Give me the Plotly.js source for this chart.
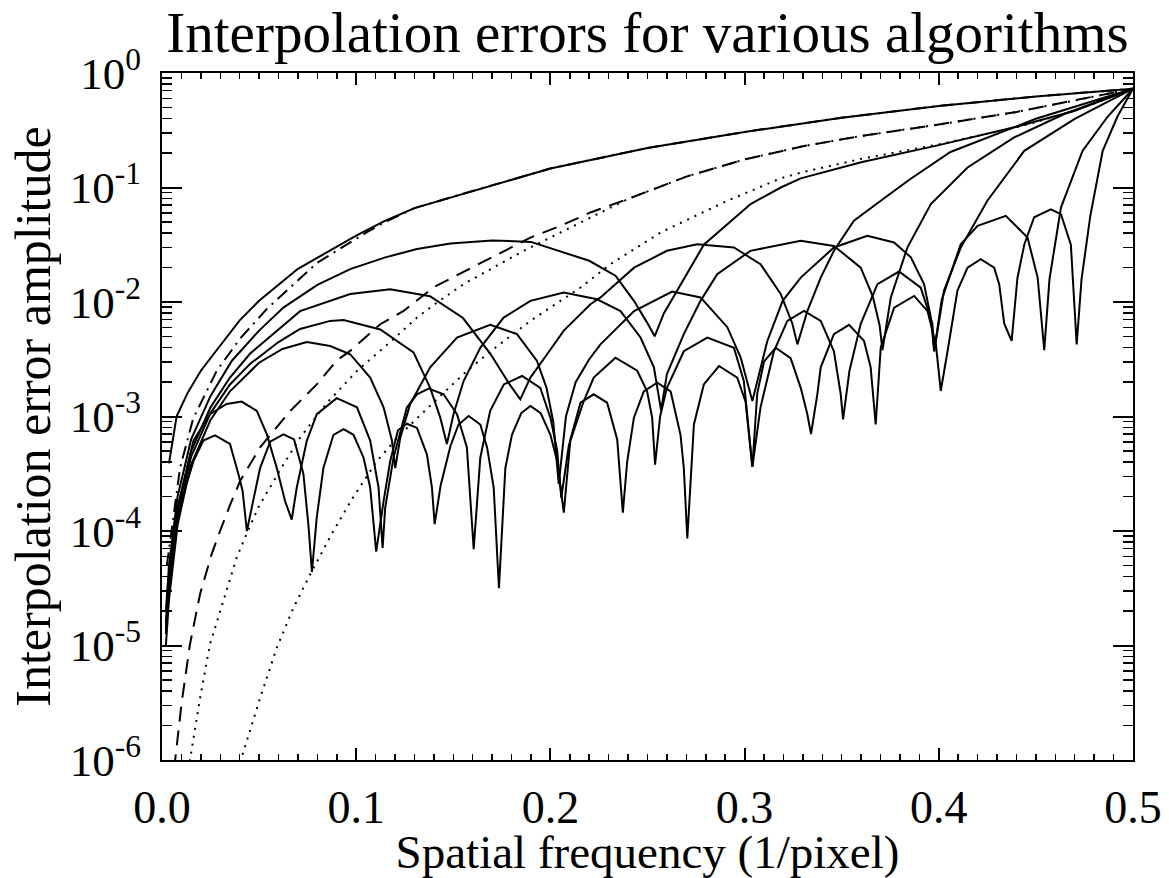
<!DOCTYPE html>
<html>
<head>
<meta charset="utf-8">
<script src="https://cdn.plot.ly/plotly-3.0.1.min.js"></script>
<style>
html,body{margin:0;padding:0;background:#fff;}
#chart{width:1169px;height:878px;}
</style>
</head>
<body>
<div id="chart"></div>
<script>
// ---- Data (frequency in 1/pixel, error as log10 of amplitude) ----
const linFreq = [0.0036,0.0075,0.013,0.02,0.03,0.04,0.05,0.07,0.1,0.115,0.13,0.16,0.2,0.25,0.3,0.35,0.4,0.45,0.5];
const linLogErr = [-3.41,-3.0,-2.8,-2.6,-2.38,-2.16,-1.99,-1.71,-1.42,-1.29,-1.18,-1.03,-0.834,-0.655,-0.515,-0.39,-0.288,-0.205,-0.137];

const ddFreq = [0.0025,0.0093,0.016,0.0282,0.0402,0.054,0.0797,0.1055,0.115,0.13,0.16,0.2,0.25,0.3,0.35,0.4,0.45,0.5];
const ddLogErr = [-4.3,-3.45,-3.02,-2.6,-2.32,-2.06,-1.66,-1.39,-1.3,-1.18,-1.03,-0.834,-0.655,-0.515,-0.39,-0.288,-0.205,-0.137];

const daFreq = [0.0055,0.0067,0.0102,0.0144,0.0196,0.0256,0.0299,0.0351,0.0402,0.0505,0.066,0.0797,0.09,0.0969,0.1124,0.1244,0.14,0.1742,0.1897,0.2052,0.2206,0.24,0.27,0.3,0.33,0.36,0.4,0.44,0.47,0.5];
const daLogErr = [-6.5,-6.01,-5.49,-4.99,-4.55,-4.2,-4.0,-3.77,-3.564,-3.27,-2.952,-2.72,-2.51,-2.427,-2.194,-2.078,-1.87,-1.568,-1.437,-1.335,-1.218,-1.1,-0.905,-0.755,-0.64,-0.55,-0.45,-0.34,-0.24,-0.137];

const do1Freq = [0.012,0.0144,0.0196,0.0247,0.0316,0.0385,0.0437,0.05,0.0625,0.0711,0.085,0.1004,0.1175,0.1313,0.1416,0.1553,0.1862,0.2172,0.24,0.27,0.3,0.33,0.36,0.4,0.44,0.47,0.5];
const do1LogErr = [-6.5,-6.0,-5.46,-4.99,-4.61,-4.23,-4.02,-3.78,-3.42,-3.185,-2.88,-2.602,-2.35,-2.136,-2.005,-1.844,-1.553,-1.291,-1.1,-0.905,-0.755,-0.64,-0.55,-0.45,-0.34,-0.24,-0.137];

const do2Freq = [0.0385,0.041,0.0505,0.0591,0.0677,0.0763,0.0866,0.0975,0.1106,0.1225,0.144,0.157,0.17,0.1897,0.2155,0.2309,0.2567,0.2911,0.3186,0.3289,0.36,0.401,0.4423,0.47,0.5];
const do2LogErr = [-6.3,-5.98,-5.46,-5.02,-4.67,-4.38,-4.05,-3.73,-3.39,-3.16,-2.81,-2.602,-2.42,-2.165,-1.874,-1.67,-1.393,-1.116,-0.92,-0.87,-0.75,-0.62,-0.465,-0.33,-0.137];

const s1Freq = [0.002,0.0036,0.008,0.015,0.025,0.0359,0.05,0.0625,0.08,0.0969,0.115,0.1313,0.1485,0.17,0.19,0.205,0.22,0.2335,0.243,0.2498,0.2537,0.2584,0.2652,0.279,0.3031,0.3186,0.3289,0.36,0.4,0.44,0.47,0.5];
const s1LogErr = [-4.7,-4.3,-3.7,-3.2,-2.82,-2.515,-2.25,-2.049,-1.85,-1.713,-1.61,-1.538,-1.49,-1.462,-1.475,-1.56,-1.64,-1.77,-1.99,-2.18,-2.3,-2.1,-1.9,-1.5,-1.145,-1.0,-0.92,-0.78,-0.63,-0.47,-0.33,-0.137];

const s2Freq = [0.002,0.0036,0.008,0.015,0.025,0.035,0.0454,0.0711,0.0969,0.1175,0.138,0.155,0.169,0.179,0.1845,0.1897,0.1983,0.2069,0.2206,0.2258,0.2431,0.26,0.2756,0.2945,0.3082,0.3186,0.3246,0.3272,0.3323,0.3392,0.346,0.3563,0.3701,0.385,0.406,0.45,0.5];
const s2LogErr = [-4.8,-4.4,-3.8,-3.3,-2.92,-2.66,-2.45,-2.08,-1.93,-1.888,-1.95,-2.14,-2.45,-2.72,-2.85,-2.66,-2.456,-2.25,-2.02,-1.96,-1.70,-1.553,-1.495,-1.524,-1.67,-1.93,-2.19,-2.37,-2.08,-1.787,-1.553,-1.29,-1.116,-0.93,-0.69,-0.4,-0.137];

const s3Freq = [0.002,0.0036,0.008,0.015,0.025,0.035,0.0454,0.06,0.0711,0.0866,0.0935,0.1124,0.1295,0.1381,0.1433,0.1467,0.1501,0.1553,0.1639,0.1759,0.1897,0.2069,0.224,0.2361,0.2464,0.2533,0.257,0.26,0.2687,0.2773,0.2859,0.303,0.3289,0.346,0.3598,0.366,0.3695,0.371,0.3753,0.3838,0.3959,0.4148,0.4388,0.4646,0.5];
const s3LogErr = [-4.85,-4.45,-3.85,-3.35,-2.97,-2.72,-2.54,-2.35,-2.235,-2.165,-2.157,-2.24,-2.44,-2.75,-3.01,-3.24,-2.98,-2.69,-2.4,-2.136,-1.99,-1.918,-1.976,-2.08,-2.31,-2.57,-2.946,-2.63,-2.28,-1.99,-1.757,-1.553,-1.466,-1.51,-1.7,-1.95,-2.2,-2.42,-1.96,-1.525,-1.145,-0.825,-0.563,-0.358,-0.137];

const s4Freq = [0.002,0.0036,0.008,0.015,0.025,0.035,0.05,0.062,0.0746,0.0866,0.0969,0.1072,0.1141,0.1184,0.1201,0.1227,0.1278,0.1381,0.1519,0.169,0.1828,0.1931,0.198,0.2015,0.2043,0.208,0.213,0.22,0.2258,0.2431,0.2627,0.2773,0.2911,0.298,0.304,0.3117,0.3196,0.3289,0.346,0.3632,0.377,0.3856,0.3924,0.3959,0.3976,0.4027,0.4113,0.425,0.444,0.47,0.5];
const s4LogErr = [-4.9,-4.5,-3.9,-3.42,-3.03,-2.78,-2.53,-2.41,-2.35,-2.384,-2.456,-2.66,-2.92,-3.21,-3.45,-3.185,-2.89,-2.57,-2.31,-2.2,-2.28,-2.515,-2.75,-3.05,-3.59,-3.0,-2.7,-2.5,-2.37,-2.08,-1.909,-1.96,-2.22,-2.486,-2.865,-2.34,-1.99,-1.787,-1.524,-1.422,-1.48,-1.61,-1.844,-2.136,-2.43,-1.9,-1.525,-1.116,-0.68,-0.4,-0.137];

const s5Freq = [0.002,0.0036,0.008,0.0162,0.0247,0.0333,0.041,0.0488,0.054,0.0591,0.0634,0.0668,0.0694,0.0746,0.0797,0.09,0.1004,0.1072,0.1115,0.1136,0.1149,0.1192,0.1261,0.1313,0.1373,0.145,0.1519,0.157,0.1605,0.1639,0.169,0.176,0.1854,0.1948,0.2,0.2035,0.2056,0.2095,0.2172,0.2223,0.2335,0.2447,0.2498,0.2524,0.2539,0.2565,0.26,0.2687,0.2808,0.2945,0.2996,0.3022,0.304,0.3082,0.3151,0.322,0.3306,0.3392,0.346,0.3495,0.3507,0.354,0.3598,0.3684,0.3795,0.3907,0.3967,0.3976,0.4015,0.4113,0.42,0.4345,0.4457,0.4509,0.4543,0.457,0.4629,0.474,0.487,0.5];
const s5LogErr = [-4.9,-4.5,-3.8,-3.21,-2.98,-2.89,-2.87,-2.95,-3.156,-3.45,-3.74,-3.9,-3.62,-3.21,-2.98,-2.84,-2.92,-3.21,-3.62,-4.147,-3.8,-3.36,-2.92,-2.806,-2.757,-2.806,-2.98,-3.27,-4.158,-3.36,-2.95,-2.72,-2.646,-2.75,-3.01,-3.3,-3.71,-3.25,-2.865,-2.66,-2.486,-2.6,-2.78,-3.01,-3.42,-3.0,-2.75,-2.43,-2.311,-2.4,-2.69,-3.1,-3.44,-2.92,-2.43,-2.165,-2.078,-2.165,-2.43,-2.806,-3.025,-2.6,-2.19,-1.844,-1.734,-1.874,-2.19,-2.43,-1.98,-1.495,-1.335,-1.247,-1.437,-1.787,-2.42,-1.8,-1.175,-0.68,-0.38,-0.137];

const s6Freq = [0.002,0.0036,0.008,0.0125,0.0162,0.0213,0.0273,0.035,0.0393,0.0415,0.0437,0.0455,0.0505,0.0557,0.0625,0.068,0.0728,0.0754,0.0772,0.0797,0.0831,0.0883,0.0935,0.0986,0.1038,0.1072,0.1103,0.1141,0.1175,0.1215,0.1261,0.1313,0.1364,0.139,0.1404,0.1435,0.1485,0.1527,0.1579,0.1639,0.1674,0.1708,0.1735,0.1768,0.1802,0.185,0.1897,0.195,0.2,0.2035,0.2069,0.2103,0.2155,0.2223,0.2292,0.2344,0.2373,0.2395,0.243,0.2481,0.255,0.2619,0.267,0.2687,0.2705,0.2739,0.279,0.2868,0.2962,0.3005,0.304,0.3065,0.31,0.316,0.3237,0.3289,0.3323,0.3342,0.3375,0.3392,0.346,0.3538,0.3615,0.3649,0.3675,0.3701,0.377,0.3873,0.3942,0.3985,0.401,0.4045,0.4096,0.4148,0.4216,0.4285,0.4311,0.4337,0.4375,0.4405,0.444,0.4491,0.4577,0.4629,0.468,0.471,0.4735,0.478,0.4844,0.492,0.5];
const s6LogErr = [-5.0,-4.6,-3.95,-3.6,-3.39,-3.21,-3.165,-3.24,-3.5,-3.65,-4.0,-3.85,-3.45,-3.22,-3.156,-3.2,-3.5,-3.95,-4.357,-3.88,-3.45,-3.16,-3.11,-3.16,-3.36,-3.62,-4.18,-3.74,-3.39,-3.12,-3.063,-3.1,-3.33,-3.62,-3.94,-3.6,-3.26,-3.07,-2.996,-3.07,-3.27,-3.62,-4.5,-3.45,-3.16,-2.97,-2.908,-2.97,-3.16,-3.39,-3.84,-3.2,-2.88,-2.806,-2.88,-3.2,-3.84,-3.4,-3.01,-2.78,-2.705,-2.78,-3.16,-3.45,-4.065,-3.07,-2.72,-2.559,-2.66,-2.87,-3.44,-2.8,-2.52,-2.4,-2.49,-2.75,-2.98,-3.153,-2.8,-2.57,-2.28,-2.2,-2.34,-2.57,-3.07,-2.4,-2.05,-1.947,-2.08,-2.37,-2.777,-2.43,-1.9,-1.7,-1.626,-1.7,-1.844,-2.19,-2.34,-1.79,-1.5,-1.26,-1.19,-1.233,-1.5,-2.37,-1.8,-1.25,-0.68,-0.38,-0.137];

// Axis ticks
const xTickVals = [0, 0.1, 0.2, 0.3, 0.4, 0.5];
const xTickText = ['0.0', '0.1', '0.2', '0.3', '0.4', '0.5'];
const yTickVals = [1e-6, 1e-5, 1e-4, 1e-3, 1e-2, 1e-1, 1];
const yTickText = ['10<sup>-6</sup>', '10<sup>-5</sup>', '10<sup>-4</sup>', '10<sup>-3</sup>', '10<sup>-2</sup>', '10<sup>-1</sup>', '10<sup>0</sup>'];

const xMinor = [];
for (let i = 1; i < 50; i++) { if (i % 10 !== 0) xMinor.push(i / 100); }
const yMinor = [];
for (let e = -6; e < 0; e++) { for (let m = 2; m <= 9; m++) yMinor.push(m * Math.pow(10, e)); }

const toAmp = arr => arr.map(v => Math.pow(10, v));

function line(f, L, dash) {
  return {x: f, y: toAmp(L), type: 'scatter', mode: 'lines',
          line: {color: 'black', width: 2, dash: dash || 'solid'}, hoverinfo: 'skip'};
}

const traces = [
  line(s6Freq, s6LogErr),
  line(s5Freq, s5LogErr),
  line(s4Freq, s4LogErr),
  line(s3Freq, s3LogErr),
  line(s2Freq, s2LogErr),
  line(s1Freq, s1LogErr),
  line(do2Freq, do2LogErr, '2px,6px'),
  line(do1Freq, do1LogErr, '2px,6px'),
  line(daFreq, daLogErr, '15px,9px'),
  line(ddFreq, ddLogErr, '13px,6px,2px,6px'),
  line(linFreq, linLogErr)
];

const FONT = '"Liberation Serif", "Times New Roman", Times, serif';

const layout = {
  width: 1169, height: 878,
  margin: {l: 162, r: 36, t: 73, b: 118},
  paper_bgcolor: 'white', plot_bgcolor: 'white',
  showlegend: false,
  font: {family: FONT, color: 'black'},
  title: {text: 'Interpolation errors for various algorithms', font: {family: FONT, size: 57, color: 'black'},
          x: 0.5, xref: 'paper', xanchor: 'center', y: 0.963, yref: 'container', yanchor: 'middle'},
  xaxis: {
    range: [0, 0.5], tickmode: 'array', tickvals: xTickVals, ticktext: xTickText,
    ticks: 'inside', ticklen: 12, tickwidth: 2, tickcolor: 'black',
    showline: true, linewidth: 2, linecolor: 'black', mirror: 'allticks',
    showgrid: false, zeroline: false,
    tickfont: {family: FONT, size: 46, color: 'black'}, ticklabelstandoff: 6,
    minor: {tickmode: 'array', tickvals: xMinor, ticks: 'inside', ticklen: 6, tickwidth: 1.5, tickcolor: 'black', showgrid: false},
    title: {text: 'Spatial frequency (1/pixel)', font: {family: FONT, size: 47, color: 'black'}, standoff: 1}
  },
  yaxis: {
    type: 'log', range: [-6, 0], tickmode: 'array', tickvals: yTickVals, ticktext: yTickText,
    ticks: 'inside', ticklen: 20, tickwidth: 2, tickcolor: 'black',
    showline: true, linewidth: 2, linecolor: 'black', mirror: 'allticks',
    showgrid: false, zeroline: false,
    tickfont: {family: FONT, size: 45, color: 'black'}, ticklabelstandoff: 10,
    minor: {tickmode: 'array', tickvals: yMinor, ticks: 'inside', ticklen: 10, tickwidth: 1.5, tickcolor: 'black', showgrid: false},
    title: {text: 'Interpolation error amplitude', font: {family: FONT, size: 50, color: 'black'}, standoff: 3}
  }
};

Plotly.newPlot('chart', traces, layout, {displayModeBar: false, staticPlot: true});
</script>
</body>
</html>
